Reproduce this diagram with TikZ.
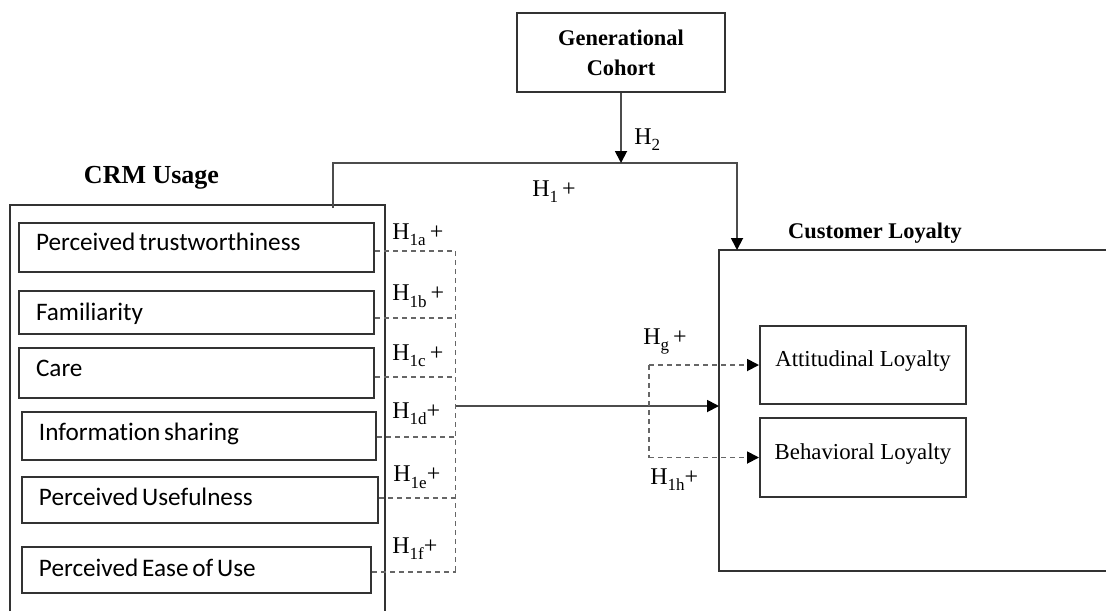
\documentclass[tikz,border=0pt]{standalone}
\usepackage{fontspec}
\setmainfont{Liberation Serif}
\newfontfamily\calib[Ligatures=NoCommon]{Carlito}
\usetikzlibrary{arrows.meta}
\newcommand\Hsub[1]{H\raisebox{-0.28em}{\fontsize{8.5}{9}\selectfont #1}}
\tikzset{
  lc/.style={draw=black!80, line width=1pt},
  ibox/.style={lc, anchor=north west, font=\calib\fontsize{12.6}{14}\selectfont,
    inner xsep=8.5pt, inner ysep=0pt, align=left, text height=9pt,
    execute at begin node={\spaceskip=1.9pt plus 1pt minus 0.5pt\relax}},
  obox/.style={lc, inner sep=0pt, align=center, font=\fontsize{11.4}{14}\selectfont},
  lab/.style={anchor=base west, inner sep=0pt, font=\fontsize{12}{14}\selectfont},
  head/.style={anchor=base, inner sep=0pt, font=\bfseries\fontsize{11.2}{14}\selectfont},
  conn/.style={draw=black!70, line width=0.9pt},
  dconn/.style={draw=black!60, line width=0.9pt, dash pattern=on 2.5pt off 2pt},
  tip/.style={-{Triangle[length=6pt,width=6pt,black]}},
}
\begin{document}
\begin{tikzpicture}[x=0.5pt,y=-0.5pt]
\useasboundingbox (0,0) rectangle (1106,611);

% CRM usage container
\draw[lc] (9.5,611) -- (9.5,205) -- (385,205) -- (385,611);
\node[head, font=\bfseries\fontsize{13}{15}\selectfont] (crmlab) at (151.5,183) {CRM Usage};

% inner boxes
\node[ibox, text width=160.5pt, minimum height=24.5pt, text depth=6.2pt] (pt) at (18,222) {Perceived trustworthiness};
\node[ibox, text width=160.5pt, minimum height=21.5pt, text depth=4.2pt, text height=12pt] (fam) at (18,290) {Familiarity};
\node[ibox, text width=160.5pt, minimum height=25pt, text depth=5.3pt] (care) at (18,347) {Care};
\node[ibox, text width=160pt, minimum height=24pt, text depth=5pt] (info) at (21,411) {Information sharing};
\node[ibox, text width=161pt, minimum height=23pt, text depth=4pt] (pu) at (21,476) {Perceived Usefulness};
\node[ibox, text width=157.5pt, minimum height=23pt, text depth=3pt] (peou) at (21,546) {Perceived Ease of Use};

% Generational cohort
\node[obox, minimum width=104pt, minimum height=39.5pt,
      font=\bfseries\fontsize{11.2}{15}\selectfont] (gc) at (621,52.5) {Generational\\Cohort};

% Customer loyalty container
\coordinate (clNW) at (719,250);
\coordinate (clSW) at (719,571);
\draw[lc] (1106,250) -- (clNW) -- (clSW) -- (1106,571);
\node[head] (cllab) at (875,238.3) {Customer Loyalty};

\node[obox, minimum width=103pt, minimum height=39pt, text height=8pt, text depth=7pt] (att) at (863,365) {Attitudinal Loyalty};
\node[obox, minimum width=103pt, minimum height=39.5pt, text height=8pt, text depth=6.5pt] (beh) at (863,457.5) {Behavioral Loyalty};

% H1 path and H2 arrow
\coordinate (crmtop) at (333,208);
\coordinate (h1R) at (737,163);
\coordinate (cltop) at (737,250);
\coordinate (h2end) at (621,163);
\draw[conn,tip] (crmtop) |- (h1R) -- (cltop);
\draw[conn,tip] (gc.south) -- (h2end);
\node[lab] (h2) at (634,144) {\Hsub{2}};
\node[lab] (h1) at (532,196) {\Hsub{1}\,+};

% dashed bus
\coordinate (bus) at (455.5,0);
\coordinate (d1) at ([yshift=-1.75pt]pt.east);
\coordinate (d2) at ([yshift=-2.75pt]fam.east);
\coordinate (d3) at ([yshift=-2pt]care.east);
\coordinate (d4) at ([yshift=-0.5pt]info.east);
\coordinate (d5) at ([yshift=1pt]pu.east);
\coordinate (d6) at ([yshift=-1pt]peou.east);
\foreach \d in {d1,d2,d3,d4,d5,d6}{\draw[dconn] (\d) -- (\d -| bus);}
\draw[dconn] (d1 -| bus) -- (d6 -| bus);

\node[lab] (l1a) at (392,239) {\Hsub{1a}\,+};
\node[lab] (l1b) at (392,300.7) {\Hsub{1b}\,+};
\node[lab] (l1c) at (392,360) {\Hsub{1c}\,+};
\node[lab] (l1d) at (392,418) {\Hsub{1d}+};
\node[lab] (l1e) at (393,481.7) {\Hsub{1e}+};
\node[lab] (l1f) at (392,553) {\Hsub{1f}+};

% main solid arrow
\coordinate (s4) at (455.5,406);
\draw[conn,tip] (s4) -- (s4 -| clNW);

% dashed split arrows
\coordinate (split) at (649,0);
\draw[dconn] (att.west -| split) -- (beh.west -| split);
\draw[dconn,tip] (att.west -| split) -- (att.west);
\draw[dconn,tip] (beh.west -| split) -- (beh.west);
\node[lab] (lg) at (643,344) {\Hsub{g}\,+};
\node[lab] (l1h) at (650,484) {\Hsub{1h}+};
\end{tikzpicture}
\end{document}
